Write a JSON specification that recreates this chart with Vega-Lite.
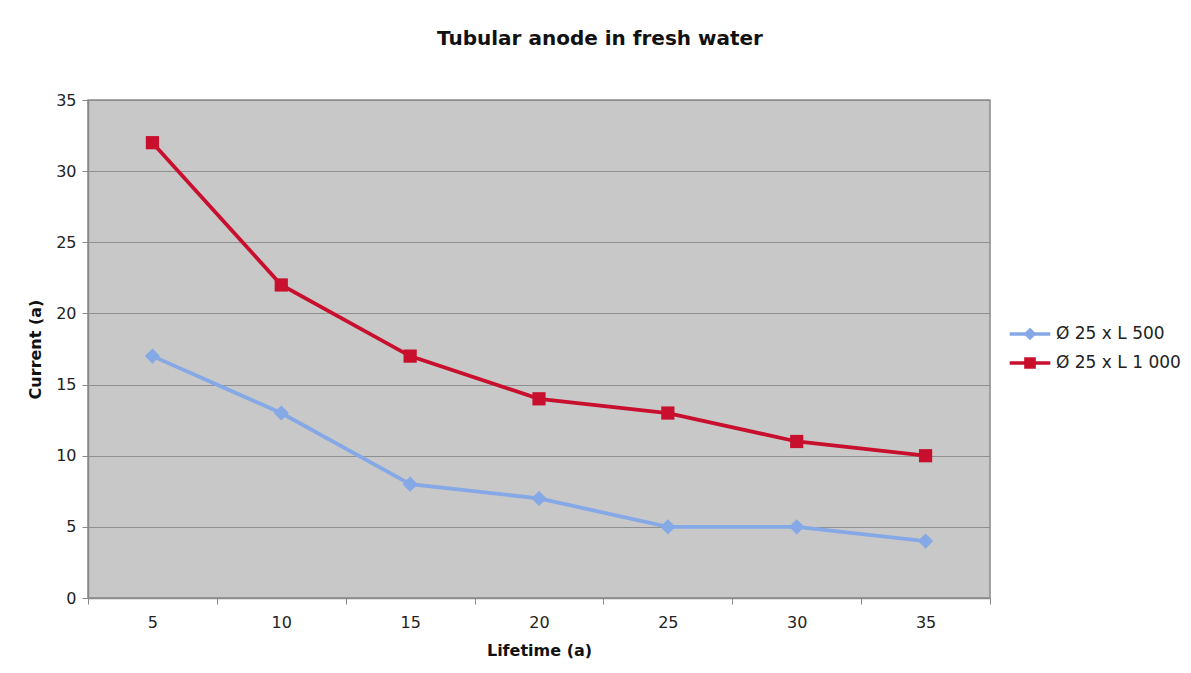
{
  "$schema": "https://vega.github.io/schema/vega-lite/v6.json",
  "width": 902,
  "height": 498,
  "autosize": {"type": "none"},
  "padding": {"left": 88, "top": 100, "right": 201, "bottom": 75},
  "background": "white",
  "title": {
    "text": "Tubular anode in fresh water",
    "font": "DejaVu Sans",
    "fontSize": 20,
    "fontWeight": "bold",
    "color": "#111",
    "anchor": "middle",
    "dx": 61,
    "offset": 43
  },
  "config": {
    "view": {"fill": "#C8C8C8", "stroke": "#8a8a8a", "strokeWidth": 1.5},
    "font": "DejaVu Sans"
  },
  "data": {
    "values": [
      {"life": 5, "current": 17, "series": "Ø 25 x L 500"},
      {"life": 10, "current": 13, "series": "Ø 25 x L 500"},
      {"life": 15, "current": 8, "series": "Ø 25 x L 500"},
      {"life": 20, "current": 7, "series": "Ø 25 x L 500"},
      {"life": 25, "current": 5, "series": "Ø 25 x L 500"},
      {"life": 30, "current": 5, "series": "Ø 25 x L 500"},
      {"life": 35, "current": 4, "series": "Ø 25 x L 500"},
      {"life": 5, "current": 32, "series": "Ø 25 x L 1 000"},
      {"life": 10, "current": 22, "series": "Ø 25 x L 1 000"},
      {"life": 15, "current": 17, "series": "Ø 25 x L 1 000"},
      {"life": 20, "current": 14, "series": "Ø 25 x L 1 000"},
      {"life": 25, "current": 13, "series": "Ø 25 x L 1 000"},
      {"life": 30, "current": 11, "series": "Ø 25 x L 1 000"},
      {"life": 35, "current": 10, "series": "Ø 25 x L 1 000"}
    ]
  },
  "encoding": {
    "x": {
      "field": "life",
      "type": "ordinal",
      "scale": {"paddingInner": 0, "paddingOuter": 0},
      "axis": {
        "title": "Lifetime (a)",
        "titleFontSize": 16,
        "titleFontWeight": "bold",
        "titleColor": "#111",
        "titlePadding": 12,
        "labelAngle": 0,
        "labelFontSize": 16,
        "labelColor": "#222",
        "labelPadding": 10,
        "tickBand": "extent",
        "tickColor": "#8a8a8a",
        "tickSize": 6,
        "domainColor": "#8a8a8a",
        "domainWidth": 1.5,
        "grid": false
      }
    },
    "y": {
      "field": "current",
      "type": "quantitative",
      "scale": {"domain": [0, 35], "nice": false},
      "axis": {
        "title": "Current (a)",
        "titleFontSize": 16,
        "titleFontWeight": "bold",
        "titleColor": "#111",
        "titlePadding": 12,
        "values": [0, 5, 10, 15, 20, 25, 30, 35],
        "labelFontSize": 16,
        "labelColor": "#222",
        "labelPadding": 6,
        "tickColor": "#8a8a8a",
        "tickSize": 6,
        "domainColor": "#8a8a8a",
        "domainWidth": 1.5,
        "grid": true,
        "gridColor": "#8f8f8f",
        "gridWidth": 1
      }
    }
  },
  "resolve": {"scale": {"shape": "independent", "size": "independent"}, "legend": {"color": "independent", "shape": "independent", "stroke": "independent"}},
  "layer": [
    {
      "mark": {"type": "line", "strokeWidth": 3.8},
      "encoding": {
        "color": {
          "field": "series",
          "type": "nominal",
          "scale": {"domain": ["Ø 25 x L 500", "Ø 25 x L 1 000"], "range": ["#85A8E6", "#C8102E"]},
          "legend": null
        }
      }
    },
    {
      "mark": {"type": "point", "filled": true, "opacity": 1},
      "encoding": {
        "color": {
          "field": "series",
          "type": "nominal",
          "scale": {"domain": ["Ø 25 x L 500", "Ø 25 x L 1 000"], "range": ["#85A8E6", "#C8102E"]},
          "legend": null
        },
        "shape": {
          "field": "series",
          "type": "nominal",
          "scale": {"domain": ["Ø 25 x L 500", "Ø 25 x L 1 000"], "range": ["diamond", "square"]},
          "legend": null
        },
        "size": {
          "field": "series",
          "type": "nominal",
          "scale": {"domain": ["Ø 25 x L 500", "Ø 25 x L 1 000"], "range": [230, 175]},
          "legend": null
        }
      }
    },
    {
      "transform": [{"filter": "datum.current < 0"}],
      "mark": {"type": "point", "filled": true, "opacity": 1},
      "encoding": {
        "color": {
          "field": "series",
          "type": "nominal",
          "scale": {"domain": ["Ø 25 x L 500", "Ø 25 x L 1 000"], "range": ["#85A8E6", "#C8102E"]},
          "legend": {
            "title": null,
            "orient": "none",
            "legendX": 924,
            "legendY": 216,
            "symbolSize": 1056,
            "symbolStrokeWidth": 3.5,
            "symbolOpacity": 1,
            "labelFontSize": 17,
            "labelColor": "#222",
            "labelOffset": 8,
            "rowPadding": 0
          }
        },
        "stroke": {
          "field": "series",
          "type": "nominal",
          "scale": {"domain": ["Ø 25 x L 500", "Ø 25 x L 1 000"], "range": ["#85A8E6", "#C8102E"]},
          "legend": {
            "title": null,
            "orient": "none",
            "legendX": 924,
            "legendY": 216,
            "symbolSize": 1056,
            "symbolStrokeWidth": 3.5,
            "symbolOpacity": 1,
            "labelFontSize": 17,
            "labelColor": "#222",
            "labelOffset": 8,
            "rowPadding": 0
          }
        },
        "shape": {
          "field": "series",
          "type": "nominal",
          "scale": {"domain": ["Ø 25 x L 500", "Ø 25 x L 1 000"], "range": ["M-1.25,0H1.25M0,-0.24L0.24,0L0,0.24L-0.24,0Z", "M-1.25,0H1.25M-0.25,-0.25H0.25V0.25H-0.25Z"]},
          "legend": {
            "title": null,
            "orient": "none",
            "legendX": 924,
            "legendY": 216,
            "symbolSize": 1056,
            "symbolStrokeWidth": 3.5,
            "symbolOpacity": 1,
            "labelFontSize": 17,
            "labelColor": "#222",
            "labelOffset": 8,
            "rowPadding": 0
          }
        }
      }
    }
  ]
}
